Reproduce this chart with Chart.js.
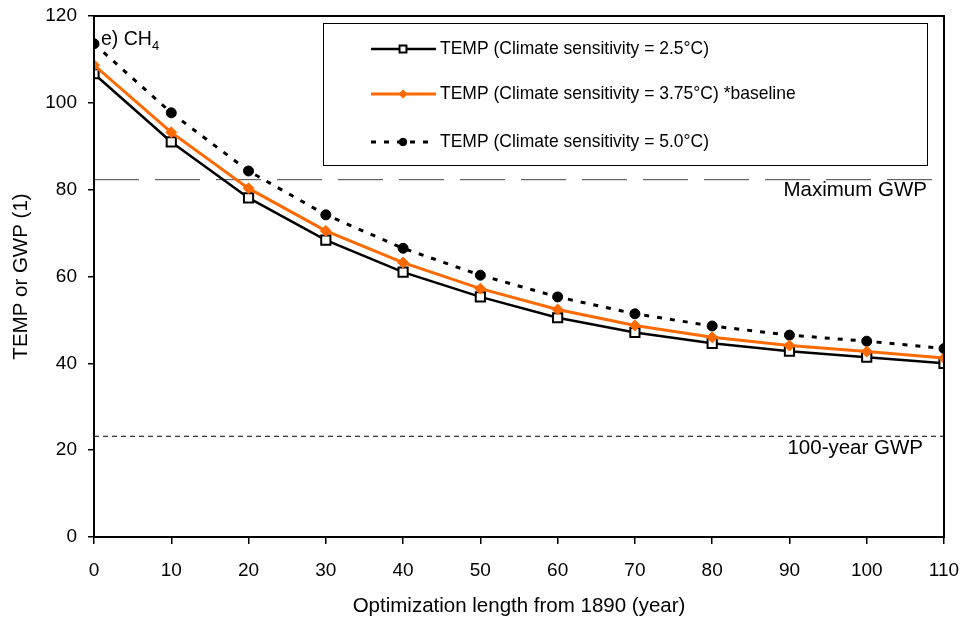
<!DOCTYPE html>
<html>
<head>
<meta charset="utf-8">
<script src="https://cdn.jsdelivr.net/npm/chart.js@4.4.1/dist/chart.umd.min.js"></script>
<style>
  html, body { margin: 0; padding: 0; background: #fff; }
  #wrap { width: 965px; height: 623px; position: relative; }
</style>
</head>
<body>
<div id="wrap"><canvas id="chart"></canvas></div>
<script>
const years = [0, 10, 20, 30, 40, 50, 60, 70, 80, 90, 100, 110];
const temp25 = [106.7, 91.0, 78.1, 68.4, 61.0, 55.3, 50.5, 47.1, 44.6, 42.8, 41.4, 40.0];
const temp375 = [108.7, 93.2, 80.3, 70.5, 63.2, 57.2, 52.4, 48.7, 46.0, 44.1, 42.7, 41.2];
const temp50 = [113.6, 97.7, 84.3, 74.2, 66.5, 60.3, 55.3, 51.4, 48.6, 46.5, 45.1, 43.4];
const maxGwp = 82.3;
const gwp100 = 23.2;
const legendLabels = [
  'TEMP (Climate sensitivity = 2.5°C)',
  'TEMP (Climate sensitivity = 3.75°C) *baseline',
  'TEMP (Climate sensitivity = 5.0°C)'
];

const FONT = '"Liberation Sans", Arial, sans-serif';
const ORANGE = '#ff6a00';

const toXY = (arr) => arr.map((v, i) => ({ x: years[i], y: v }));
const flat = (v) => [{ x: years[0], y: v }, { x: years[years.length - 1], y: v }];

// keep the plot box where the original has it, no automatic label overhang
const noOverhang = (s) => {
  s.paddingTop = 0;
  s.paddingBottom = 0;
  s.paddingLeft = 0;
  s.paddingRight = 0;
};

// frame, reference line labels, panel label and boxed legend
const extras = {
  id: 'extras',
  afterDraw(chart) {
    const { ctx, chartArea: a, scales } = chart;
    ctx.save();
    ctx.strokeStyle = '#000';
    ctx.lineWidth = 2;
    ctx.strokeRect(a.left, a.top, a.right - a.left, a.bottom - a.top);

    ctx.fillStyle = '#000';
    ctx.font = '20.5px ' + FONT;
    ctx.textAlign = 'right';
    ctx.textBaseline = 'middle';
    ctx.fillText('Maximum GWP', a.right - 17, scales.y.getPixelForValue(maxGwp) + 11);
    ctx.fillText('100-year GWP', a.right - 21, scales.y.getPixelForValue(gwp100) + 12);

    // panel label
    ctx.textAlign = 'left';
    ctx.font = '19.5px ' + FONT;
    ctx.fillText('e) CH', a.left + 7, 40);
    const w = ctx.measureText('e) CH').width;
    ctx.font = '13px ' + FONT;
    ctx.fillText('4', a.left + 7 + w, 46);

    // legend box
    const bx = 323, by = 23, bw = 604, bh = 142;
    ctx.fillStyle = '#fff';
    ctx.fillRect(bx, by, bw, bh);
    ctx.lineWidth = 1;
    ctx.strokeStyle = '#000';
    ctx.strokeRect(bx + 0.5, by + 0.5, bw, bh);
    const rows = [49, 94, 142];
    chart.data.datasets.slice(0, 3).forEach((ds, i) => {
      const y = rows[i];
      ctx.beginPath();
      ctx.setLineDash(ds.borderDash || []);
      ctx.strokeStyle = ds.borderColor;
      ctx.lineWidth = ds.borderWidth;
      ctx.moveTo(371, y);
      ctx.lineTo(436, y);
      ctx.stroke();
      ctx.setLineDash([]);
      ctx.fillStyle = ds.pointBackgroundColor;
      ctx.strokeStyle = ds.pointBorderColor;
      ctx.lineWidth = ds.pointBorderWidth;
      Chart.helpers.drawPoint(ctx, {
        pointStyle: ds.pointStyle,
        radius: ds.pointRadius * 0.75,
        borderWidth: ds.pointBorderWidth
      }, 403, y);
      // legend text is a little taller than it is wide in the original
      ctx.save();
      ctx.translate(440, y);
      ctx.scale(1, 1.1);
      ctx.fillStyle = '#000';
      ctx.font = '17.5px ' + FONT;
      ctx.textAlign = 'left';
      ctx.textBaseline = 'middle';
      ctx.fillText(legendLabels[i], 0, 0);
      ctx.restore();
    });
    ctx.restore();
  }
};

new Chart(document.getElementById('chart'), {
  type: 'line',
  data: {
    datasets: [
      {
        label: legendLabels[0],
        data: toXY(temp25),
        borderColor: '#000',
        borderWidth: 2.5,
        pointStyle: 'rect',
        pointRadius: 6.5,
        pointBackgroundColor: '#fff',
        pointBorderColor: '#000',
        pointBorderWidth: 2,
        order: 2
      },
      {
        label: legendLabels[1],
        data: toXY(temp375),
        borderColor: ORANGE,
        borderWidth: 3,
        pointStyle: 'rectRot',
        pointRadius: 5.5,
        pointBackgroundColor: ORANGE,
        pointBorderColor: ORANGE,
        pointBorderWidth: 1,
        order: 1
      },
      {
        label: legendLabels[2],
        data: toXY(temp50),
        borderColor: '#000',
        borderWidth: 3,
        borderDash: [5, 8],
        pointStyle: 'circle',
        pointRadius: 5,
        pointBackgroundColor: '#000',
        pointBorderColor: '#000',
        pointBorderWidth: 1,
        order: 3
      },
      {
        label: 'Maximum GWP',
        data: flat(maxGwp),
        borderColor: '#444',
        borderWidth: 1,
        borderDash: [45, 16],
        pointRadius: 0,
        order: 4
      },
      {
        label: '100-year GWP',
        data: flat(gwp100),
        borderColor: '#000',
        borderWidth: 1,
        borderDash: [5, 4],
        pointRadius: 0,
        order: 4
      }
    ]
  },
  options: {
    responsive: true,
    maintainAspectRatio: false,
    animation: false,
    layout: { padding: { left: 0, top: 16, right: 21, bottom: 0 } },
    plugins: {
      legend: { display: false },
      tooltip: { enabled: false }
    },
    scales: {
      x: {
        type: 'linear',
        min: 0,
        max: 110,
        afterFit: (s) => { s.height = 86; noOverhang(s); },
        ticks: { stepSize: 10, color: '#000', font: { family: FONT, size: 19 }, padding: 15 },
        grid: { drawOnChartArea: false, color: '#000', tickLength: 7, lineWidth: 1.5 },
        border: { color: '#000', width: 2 },
        title: {
          display: true,
          text: 'Optimization length from 1890 (year)',
          color: '#000',
          font: { family: FONT, size: 20.5 },
          padding: { top: 0, bottom: 4 }
        }
      },
      y: {
        min: 0,
        max: 120,
        afterFit: (s) => { s.width = 94; noOverhang(s); },
        ticks: { stepSize: 20, color: '#000', font: { family: FONT, size: 19 }, padding: 11 },
        grid: { drawOnChartArea: false, color: '#000', tickLength: 6, lineWidth: 1.5 },
        border: { color: '#000', width: 2 },
        title: {
          display: true,
          text: 'TEMP or GWP (1)',
          color: '#000',
          font: { family: FONT, size: 20.5 },
          padding: { top: 9, bottom: 0 }
        }
      }
    }
  },
  plugins: [extras]
});
</script>
</body>
</html>
